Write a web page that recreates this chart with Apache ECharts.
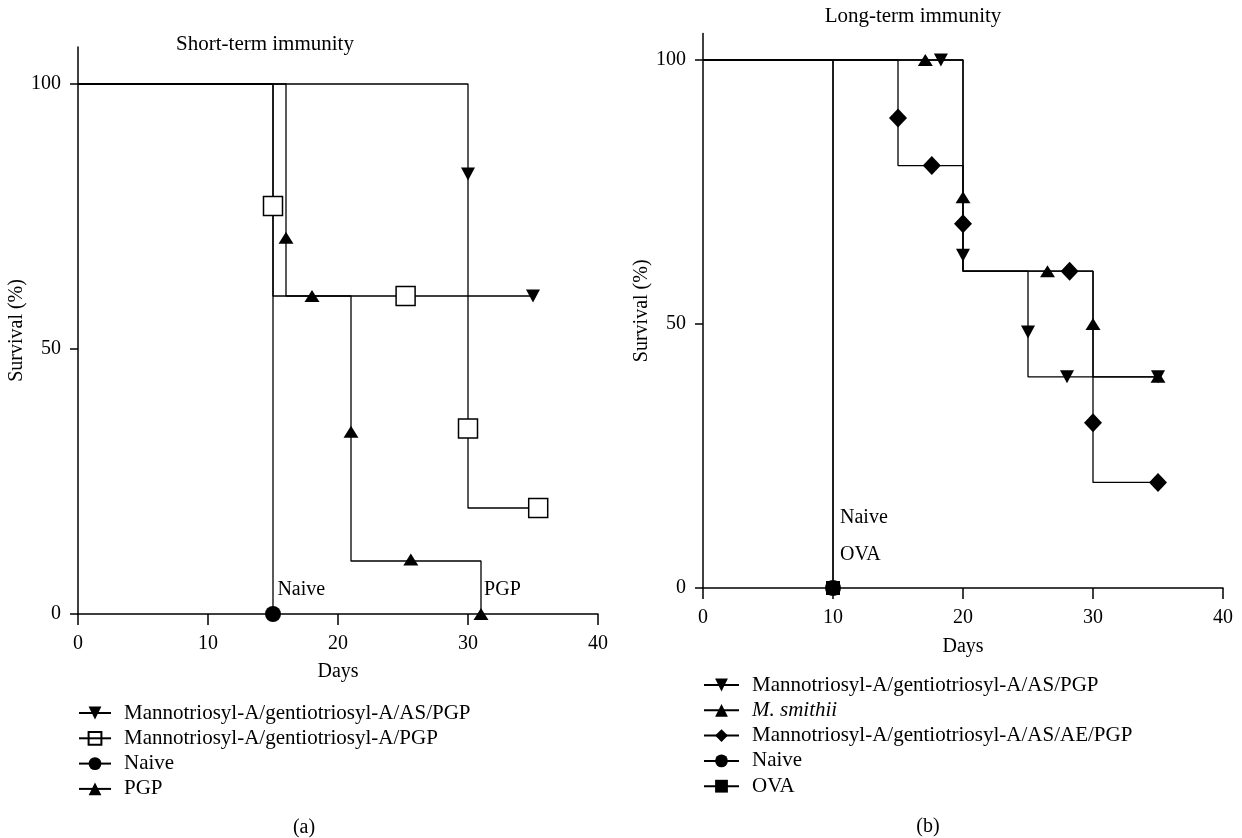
<!DOCTYPE html>
<html>
<head>
<meta charset="utf-8">
<title>Short-term and long-term immunity</title>
<script src="https://cdn.jsdelivr.net/npm/echarts@6/dist/echarts.min.js"></script>
<style>
html,body{margin:0;padding:0;background:#fff;}
#survival{width:1242px;height:838px;}
</style>
</head>
<body>
<div id="survival"></div>
<script>
// series names
var nameAsPgp = 'Mannotriosyl-A/gentiotriosyl-A/AS/PGP';
var nameSugarPgp = 'Mannotriosyl-A/gentiotriosyl-A/PGP';
var nameAsAePgp = 'Mannotriosyl-A/gentiotriosyl-A/AS/AE/PGP';

// axis ticks
var dayTicks = [0, 10, 20, 30, 40];
var survivalTicks = [0, 50, 100];

// (a) short-term: step curve corners [day, %] and symbol points [day, %]
var shortAsPgpCurve = [[0, 100], [30, 60], [35, 60]];
var shortAsPgpMarks = [[30, 83], [35, 60]];
var shortSugarCurve = [[0, 100], [15, 60], [30, 20], [35.4, 20]];
var shortSugarMarks = [[15, 77], [25.2, 60], [30, 35], [35.4, 20]];
var shortNaiveCurve = [[0, 100], [15, 0]];
var shortNaiveMarks = [[15, 0]];
var shortPgpCurve = [[0, 100], [16, 60], [21, 10], [31, 0]];
var shortPgpMarks = [[16, 71], [18, 60], [21, 34.4], [25.6, 10.3], [31, 0]];
var shortNotes = [[15.3, 4.5, 'Naive'], [31.2, 4.5, 'PGP']];
var shortLegend = [nameAsPgp, nameSugarPgp, 'Naive', 'PGP'];

// (b) long-term
var longAsPgpCurve = [[0, 100], [20, 60], [25, 40], [35, 40]];
var longAsPgpMarks = [[18.3, 100], [20, 63], [25, 48.5], [28, 40], [35, 40]];
var longSmithiiCurve = [[0, 100], [20, 60], [30, 40], [35, 40]];
var longSmithiiMarks = [[17.1, 100], [20, 74], [26.5, 60], [30, 50], [35, 40]];
var longAePgpCurve = [[0, 100], [15, 80], [20, 60], [30, 20], [35, 20]];
var longAePgpMarks = [[15, 89], [17.6, 80], [20, 69], [28.2, 60], [30, 31.3], [35, 20]];
var longNaiveCurve = [[0, 100], [10, 0]];
var longNaiveMarks = [[10, 0]];
var longOvaCurve = [[0, 100], [10, 0]];
var longOvaMarks = [[10, 0]];
var longNotes = [[10.5, 13.3, 'Naive'], [10.5, 6.3, 'OVA']];
var longLegend = [nameAsPgp, 'M. smithii', nameAsAePgp, 'Naive', 'OVA'];

var serif = '"Liberation Serif", "Times New Roman", serif';

var symDown = {symbol: 'triangle', rotate: 180, size: [14, 13]};
var symUp = {symbol: 'triangle', rotate: 0, size: [15, 12]};
var symBox = {symbol: 'rect', rotate: 0, size: [19, 19], hollow: true};
var symDot = {symbol: 'circle', rotate: 0, size: 16};
var symDiamond = {symbol: 'diamond', rotate: 0, size: [18, 19]};
var symSquare = {symbol: 'rect', rotate: 0, size: 14};

function km(name, gi, curve, marks, sym) {
    var itemStyle = sym.hollow
        ? {color: '#fff', borderColor: '#000', borderWidth: 1.5, opacity: 1}
        : {color: '#000', opacity: 1};
    return [{
        name: name, type: 'line', step: 'end',
        xAxisIndex: gi, yAxisIndex: gi,
        data: curve, showSymbol: false,
        symbol: sym.symbol, symbolRotate: sym.rotate, symbolSize: sym.size,
        itemStyle: itemStyle,
        lineStyle: {color: '#000', width: 1.3},
        silent: true, z: 2
    }, {
        name: name, type: 'scatter',
        xAxisIndex: gi, yAxisIndex: gi,
        data: marks, clip: false,
        symbol: sym.symbol, symbolRotate: sym.rotate, symbolSize: sym.size,
        itemStyle: itemStyle,
        silent: true, z: 3
    }];
}

function notes(gi, list) {
    return {
        name: 'notes' + gi, type: 'scatter',
        xAxisIndex: gi, yAxisIndex: gi,
        data: list, symbolSize: 1, clip: false,
        itemStyle: {color: 'rgba(0,0,0,0)', opacity: 1},
        label: {
            show: true, position: 'right', distance: 0,
            formatter: function (p) { return p.data[2]; },
            color: '#000', opacity: 1, fontFamily: serif, fontSize: 20
        },
        silent: true, z: 4
    };
}

function xAxisFor(gi, gap) {
    return {
        gridIndex: gi, type: 'value', min: 0, max: 40, interval: 10,
        name: 'Days', nameLocation: 'middle', nameGap: gap,
        nameTextStyle: {color: '#000', fontFamily: serif, fontSize: 20},
        axisLine: {lineStyle: {color: '#000', width: 1.5}},
        axisTick: {length: 11, lineStyle: {color: '#000', width: 1.5}, customValues: dayTicks},
        axisLabel: {margin: 20, color: '#000', fontFamily: serif, fontSize: 20, customValues: dayTicks},
        splitLine: {show: false}
    };
}

function yAxisFor(gi, max, gap) {
    return {
        gridIndex: gi, type: 'value', min: 0, max: max, interval: 50,
        name: 'Survival (%)', nameLocation: 'middle', nameGap: gap,
        nameTextStyle: {color: '#000', fontFamily: serif, fontSize: 20},
        axisLine: {show: true, lineStyle: {color: '#000', width: 1.5}},
        axisTick: {show: true, length: 8, lineStyle: {color: '#000', width: 1.5}, customValues: survivalTicks},
        axisLabel: {margin: 17, color: '#000', fontFamily: serif, fontSize: 20, customValues: survivalTicks},
        splitLine: {show: false}
    };
}

function legendFor(names, left, top, width) {
    return {
        orient: 'vertical', left: left, top: top, padding: 0,
        itemWidth: width, itemHeight: 16, itemGap: 4.3,
        selectedMode: false,
        data: names.map(function (n) {
            return n === nameSugarPgp ? {name: n, itemStyle: {color: 'rgba(0,0,0,0)'}} : {name: n};
        }),
        textStyle: {
            color: '#000', fontFamily: serif, fontSize: 21, lineHeight: 21,
            padding: [0, 0, 0, 8],
            rich: {i: {fontStyle: 'italic', fontFamily: serif, fontSize: 21, color: '#000'}}
        },
        formatter: function (n) { return n === 'M. smithii' ? '{i|' + n + '}' : n; }
    };
}

function caption(text, x, y, size) {
    return {
        type: 'text', x: x, y: y, silent: true,
        style: {
            text: text, font: size + 'px ' + serif, fill: '#000',
            align: 'center', verticalAlign: 'middle',
            textAlign: 'center', textVerticalAlign: 'middle'
        }
    };
}

var series = [].concat(
    km(nameAsPgp, 0, shortAsPgpCurve, shortAsPgpMarks, symDown),
    km(nameSugarPgp, 0, shortSugarCurve, shortSugarMarks, symBox),
    km('Naive', 0, shortNaiveCurve, shortNaiveMarks, symDot),
    km('PGP', 0, shortPgpCurve, shortPgpMarks, symUp),
    km(nameAsPgp, 1, longAsPgpCurve, longAsPgpMarks, symDown),
    km('M. smithii', 1, longSmithiiCurve, longSmithiiMarks, symUp),
    km(nameAsAePgp, 1, longAePgpCurve, longAePgpMarks, symDiamond),
    km('Naive', 1, longNaiveCurve, longNaiveMarks, symDot),
    km('OVA', 1, longOvaCurve, longOvaMarks, symSquare),
    [notes(0, shortNotes), notes(1, longNotes)]
);

var option = {
    animation: false,
    backgroundColor: '#fff',
    grid: [
        {left: 78, top: 46.9, width: 520, height: 567.1},
        {left: 703, top: 33.6, width: 520, height: 554.4}
    ],
    xAxis: [xAxisFor(0, 48), xAxisFor(1, 49)],
    yAxis: [yAxisFor(0, 107, 48), yAxisFor(1, 105, 41)],
    legend: [
        legendFor(shortLegend, 78, 702.5, 32),
        legendFor(longLegend, 703, 674.5, 35)
    ],
    graphic: [
        caption('Short-term immunity', 265, 44, 21),
        caption('Long-term immunity', 913, 16, 21),
        caption('(a)', 304, 828, 20),
        caption('(b)', 928, 827, 20)
    ],
    series: series
};

var chart = echarts.init(document.getElementById('survival'));
chart.setOption(option);
</script>
</body>
</html>
